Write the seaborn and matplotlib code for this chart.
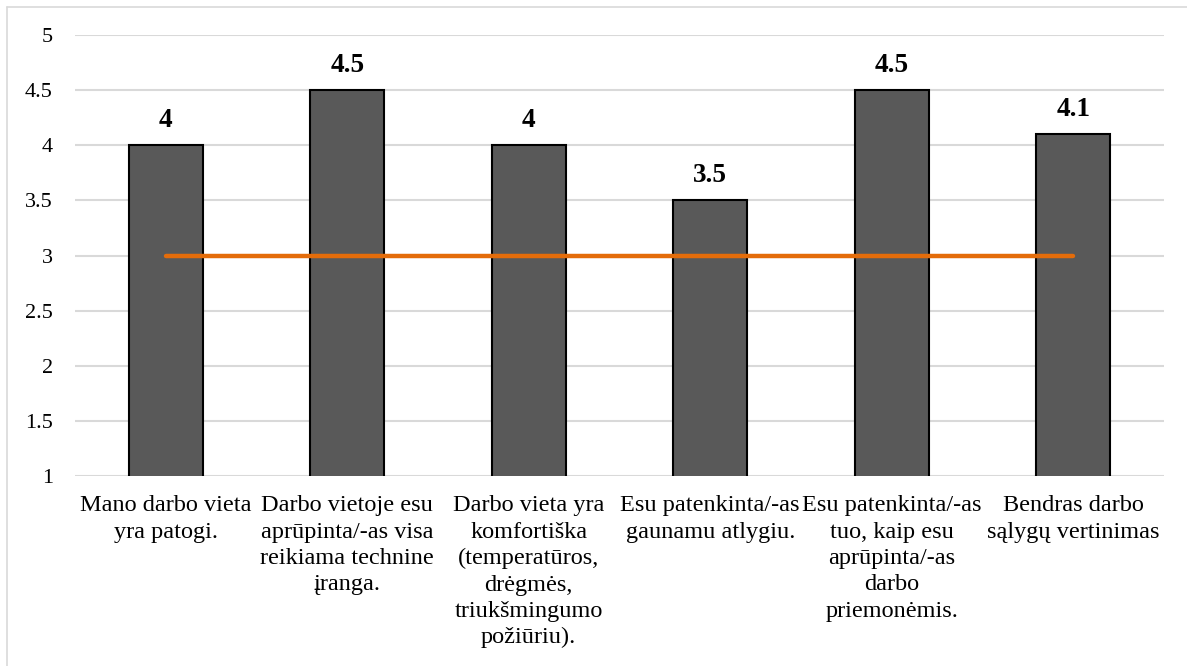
import matplotlib
matplotlib.use("Agg")
import matplotlib.pyplot as plt
from matplotlib.lines import Line2D
import seaborn as sns
import pandas as pd

categories = [
    "Mano darbo vieta\nyra patogi.",
    "Darbo vietoje esu\naprūpinta/-as visa\nreikiama technine\nįranga.",
    "Darbo vieta yra\nkomfortiška\n(temperatūros,\ndrėgmės,\ntriukšmingumo\npožiūriu).",
    "Esu patenkinta/-as\ngaunamu atlygiu.",
    "Esu patenkinta/-as\ntuo, kaip esu\naprūpinta/-as\ndarbo\npriemonėmis.",
    "Bendras darbo\nsąlygų vertinimas",
]
scores = [4, 4.5, 4, 3.5, 4.5, 4.1]
reference_level = [3, 3, 3, 3, 3, 3]
y_ticks = [1, 1.5, 2, 2.5, 3, 3.5, 4, 4.5, 5]
y_tick_labels = ["1", "1.5", "2", "2.5", "3", "3.5", "4", "4.5", "5"]

df = pd.DataFrame({"category": categories, "score": scores, "level": reference_level})

sns.set_theme(style="white")
plt.rcParams["font.family"] = ["Liberation Serif", "DejaVu Serif"]

fig = plt.figure(figsize=(11.87, 6.66), dpi=100)
ax = fig.add_axes([0.0632, 0.2853, 0.9174, 0.6621])

sns.barplot(data=df, x="category", y="score", color="#595959", width=0.41,
            edgecolor="black", linewidth=1.5, saturation=1, ax=ax, zorder=3)
for p in ax.patches:
    p.set_facecolor("#595959")
    p.set_edgecolor("black")

sns.lineplot(data=df, x="category", y="level", color="#E46C0A", linewidth=3.2,
             solid_capstyle="round", ax=ax, zorder=4, sort=False)

for i, v in enumerate(scores):
    ax.annotate(f"{v:g}", xy=(i, v), xytext=(0, 13), textcoords="offset points",
                ha="center", va="baseline", fontsize=19.5, fontweight="bold",
                color="black")

ax.set_ylim(1, 5)
ax.set_xlim(-0.5, len(categories) - 0.5)
ax.set_yticks(y_ticks)
ax.set_yticklabels(y_tick_labels)
ax.yaxis.grid(True, color="#D9D9D9", linewidth=1.5, zorder=0)
ax.set_axisbelow(True)
for s in ax.spines.values():
    s.set_visible(False)
ax.tick_params(axis="both", length=0, colors="black")
ax.tick_params(axis="y", pad=16, labelsize=16)
ax.tick_params(axis="x", pad=14, labelsize=17.5)
for lbl in ax.get_xticklabels():
    lbl.set_linespacing(1.33)
ax.set_xlabel("")
ax.set_ylabel("")

# chart frame
fig.add_artist(Line2D([7 / 1187, 1], [1 - 7 / 666, 1 - 7 / 666], color="#D9D9D9",
                      linewidth=1.2, transform=fig.transFigure))
fig.add_artist(Line2D([7 / 1187, 7 / 1187], [0, 1 - 7 / 666], color="#D9D9D9",
                      linewidth=1.2, transform=fig.transFigure))

fig.savefig("out.png", dpi=100)
